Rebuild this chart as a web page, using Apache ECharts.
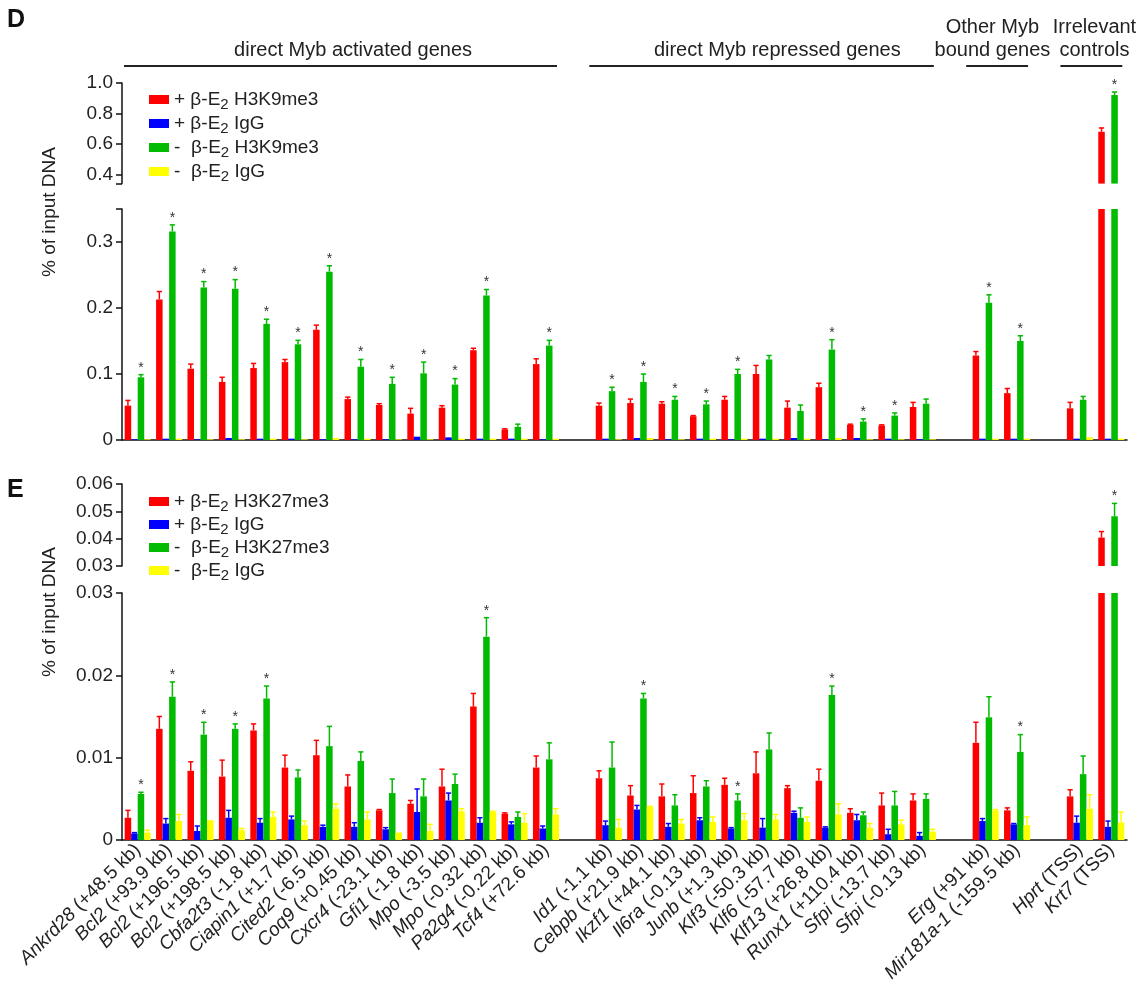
<!DOCTYPE html>
<html>
<head>
<meta charset="utf-8">
<script src="https://cdn.jsdelivr.net/npm/echarts@6/dist/echarts.min.js"></script>
<style>
  html, body { margin: 0; padding: 0; background: #fff; }
  #chart { width: 1145px; height: 998px; }
</style>
</head>
<body>
<div id="chart"></div>
<script>
// ChIP-qPCR loci, grouped; a blank slot separates groups on the axis
const groupTitles = [
  ['direct Myb activated genes'],
  ['direct Myb repressed genes'],
  ['Other Myb', 'bound genes'],
  ['Irrelevant', 'controls']
];
const groupSizes = [14, 11, 2, 2];
const genes = [
  'Ankrd28 (+48.5 kb)', 'Bcl2 (+93.9 kb)', 'Bcl2 (+196.5 kb)', 'Bcl2 (+198.5 kb)', 'Cbfa2t3 (-1.8 kb)',
  'Ciapin1 (+1.7 kb)', 'Cited2 (-6.5 kb)', 'Coq9 (+0.45 kb)', 'Cxcr4 (-23.1 kb)', 'Gfi1 (-1.8 kb)',
  'Mpo (-3.5 kb)', 'Mpo (-0.32 kb)', 'Pa2g4 (-0.22 kb)', 'Tcf4 (+72.6 kb)',
  'Id1 (-1.1 kb)', 'Cebpb (+21.9 kb)', 'Ikzf1 (+44.1 kb)', 'Il6ra (-0.13 kb)', 'Junb (+1.3 kb)',
  'Klf3 (-50.3 kb)', 'Klf6 (-57.7 kb)', 'Klf13 (+26.8 kb)', 'Runx1 (+110.4 kb)', 'Sfpi (-13.7 kb)', 'Sfpi (-0.13 kb)',
  'Erg (+91 kb)', 'Mir181a-1 (-159.5 kb)',
  'Hprt (TSS)', 'Krt7 (TSS)'
];

// Panel D: H3K9me3 ChIP (% of input DNA), mean and upper SEM
const dRed      = [0.052,0.213,0.108,0.088,0.109,0.118,0.167,0.062,0.053,0.040,0.049,0.136,0.016,0.115, 0.052,0.056,0.055,0.036,0.061,0.100,0.049,0.080,0.023,0.022,0.050, 0.128,0.071, 0.048,0.680];
const dRedErr   = [0.008,0.012,0.007,0.007,0.007,0.004,0.007,0.003,0.002,0.008,0.003,0.003,0.001,0.008, 0.004,0.006,0.003,0.001,0.005,0.013,0.010,0.006,0.001,0.001,0.007, 0.006,0.007, 0.009,0.025];
const dBlue     = [0.001,0.002,0.001,0.003,0.002,0.002,0.001,0.001,0.001,0.005,0.004,0.002,0.002,0.001, 0.002,0.003,0.001,0.002,0.001,0.002,0.003,0.001,0.003,0.002,0.001, 0.002,0.002, 0.002,0.002];
const dBlueErr  = [0,0,0,0,0,0,0,0,0,0,0,0,0,0, 0,0,0,0,0,0,0,0,0,0,0, 0,0, 0,0];
const dGreen    = [0.095,0.316,0.231,0.229,0.176,0.145,0.255,0.111,0.085,0.101,0.084,0.219,0.020,0.143, 0.074,0.088,0.061,0.054,0.100,0.122,0.044,0.137,0.028,0.037,0.055, 0.208,0.150, 0.061,0.921];
const dGreenErr = [0.004,0.010,0.009,0.014,0.007,0.006,0.009,0.011,0.010,0.017,0.009,0.009,0.004,0.008, 0.006,0.012,0.005,0.005,0.007,0.006,0.009,0.015,0.004,0.004,0.007, 0.012,0.008, 0.005,0.020];
const dYellow   = [0.001,0.002,0.001,0.001,0.002,0.001,0.003,0.002,0.001,0.001,0.002,0.002,0.002,0.002, 0.001,0.003,0.001,0.002,0.002,0.002,0.002,0.003,0.001,0.001,0.001, 0.002,0.002, 0.004,0.002];
const dYellowErr= [0,0,0,0,0,0,0,0,0,0,0,0,0,0, 0,0,0,0,0,0,0,0,0,0,0, 0,0, 0,0];
const dSig      = [1,1,1,1,1,1,1,1,1,1,1,1,0,1, 1,1,1,1,1,0,0,1,1,1,0, 1,1, 0,1];

// Panel E: H3K27me3 ChIP (% of input DNA), mean and upper SEM
const eRed      = [0.0027,0.0135,0.0084,0.0077,0.0133,0.0088,0.0103,0.0065,0.0036,0.0044,0.0065,0.0162,0.0032,0.0088, 0.0075,0.0054,0.0053,0.0057,0.0067,0.0081,0.0063,0.0072,0.0033,0.0042,0.0048, 0.0118,0.0036, 0.0053,0.0404];
const eRedErr   = [0.0009,0.0015,0.0011,0.0020,0.0008,0.0015,0.0018,0.0014,0.0001,0.0004,0.0021,0.0016,0.0001,0.0014, 0.0009,0.0012,0.0015,0.0021,0.0008,0.0026,0.0003,0.0014,0.0005,0.0015,0.0008, 0.0025,0.0003, 0.0008,0.0022];
const eBlue     = [0.0008,0.0020,0.0011,0.0027,0.0021,0.0025,0.0016,0.0016,0.0013,0.0034,0.0048,0.0021,0.0019,0.0014, 0.0018,0.0037,0.0016,0.0024,0.0014,0.0015,0.0033,0.0015,0.0024,0.0007,0.0005, 0.0023,0.0019, 0.0021,0.0016];
const eBlueErr  = [0.0001,0.0006,0.0006,0.0009,0.0005,0.0004,0.0002,0.0005,0.0002,0.0028,0.0009,0.0006,0.0003,0.0003, 0.0005,0.0005,0.0004,0.0003,0.0001,0.0011,0.0002,0.0001,0.0007,0.0006,0.0004, 0.0003,0.0001, 0.0008,0.0007];
const eGreen    = [0.0056,0.0174,0.0128,0.0135,0.0172,0.0076,0.0114,0.0096,0.0057,0.0053,0.0068,0.0247,0.0028,0.0098, 0.0088,0.0172,0.0042,0.0065,0.0048,0.0110,0.0027,0.0176,0.0030,0.0042,0.0050, 0.0149,0.0107, 0.0080,0.0482];
const eGreenErr = [0.0002,0.0018,0.0015,0.0006,0.0015,0.0009,0.0024,0.0011,0.0017,0.0021,0.0012,0.0023,0.0006,0.0020, 0.0031,0.0006,0.0013,0.0007,0.0008,0.0020,0.0012,0.0011,0.0004,0.0017,0.0006, 0.0025,0.0021, 0.0022,0.0047];
const eYellow   = [0.0009,0.0023,0.0024,0.0012,0.0028,0.0018,0.0038,0.0025,0.0009,0.0011,0.0035,0.0034,0.0021,0.0031, 0.0015,0.0040,0.0020,0.0022,0.0024,0.0025,0.0022,0.0031,0.0015,0.0019,0.0010, 0.0036,0.0018, 0.0038,0.0021];
const eYellowErr= [0.0003,0.0008,0.0000,0.0002,0.0006,0.0005,0.0006,0.0009,0.0000,0.0008,0.0003,0.0001,0.0011,0.0007, 0.0010,0.0001,0.0005,0.0006,0.0008,0.0006,0.0006,0.0013,0.0005,0.0005,0.0003, 0.0001,0.0010, 0.0017,0.0013];
const eSig      = [1,1,1,1,1,0,0,0,0,0,0,1,0,0, 0,1,0,0,1,0,0,1,0,0,0, 0,1, 0,1];

// Axis ticks for the broken value axes
const dUpperTicks = [0.4, 0.6, 0.8, 1.0];
const dLowerTicks = [0, 0.1, 0.2, 0.3];
const eUpperTicks = [0.03, 0.04, 0.05, 0.06];
const eLowerTicks = [0, 0.01, 0.02, 0.03];

const dNames = ['+ β-E2 H3K9me3', '+ β-E2 IgG', '-  β-E2 H3K9me3', '-  β-E2 IgG'];
const eNames = ['+ β-E2 H3K27me3', '+ β-E2 IgG', '-  β-E2 H3K27me3', '-  β-E2 IgG'];

// ---------------------------------------------------------------------------
const FONT = 'Liberation Sans, Arial, Helvetica, sans-serif';
const TXT = '#222';
const COLORS = ['#ff0000', '#0000ff', '#00bb00', '#ffff00'];
const CAT_GAP = 0.17;

// Category slots with a blank between consecutive groups
const slots = [];          // label per slot
const geneSlot = [];       // slot index of each gene
const groupSpan = [];      // [firstSlot, lastSlot] per group
(function buildSlots() {
  let g = 0;
  groupSizes.forEach((n, gi) => {
    if (gi > 0) slots.push('');
    const first = slots.length;
    for (let k = 0; k < n; k++) { geneSlot.push(slots.length); slots.push(genes[g++]); }
    groupSpan.push([first, slots.length - 1]);
  });
})();

function toSlots(arr) {
  const out = slots.map(() => '-');
  arr.forEach((v, i) => { out[geneSlot[i]] = v; });
  return out;
}

const GRID_LEFT = 122, GRID_WIDTH = 1005;
const grids = [
  { left: GRID_LEFT, width: GRID_WIDTH, top: 83,  height: 100.6 }, // D upper
  { left: GRID_LEFT, width: GRID_WIDTH, top: 209, height: 231 },   // D lower
  { left: GRID_LEFT, width: GRID_WIDTH, top: 484, height: 82 },    // E upper
  { left: GRID_LEFT, width: GRID_WIDTH, top: 593, height: 247 }    // E lower
];

function catLabel(v) {
  if (!v) return '';
  const i = v.indexOf(' ');
  return '{i|' + v.slice(0, i) + '}{n|' + v.slice(i) + '}';
}

const xAxes = grids.map((g, gi) => ({
  type: 'category',
  gridIndex: gi,
  data: slots,
  show: gi === 1 || gi === 3,
  axisLine: { lineStyle: { color: '#111', width: 1.5 } },
  axisTick: { alignWithLabel: true, length: 5, lineStyle: { color: '#111', width: 1.5 } },
  axisLabel: gi === 3 ? {
    interval: 0, rotate: 45, margin: 7, formatter: catLabel,
    rich: {
      i: { fontStyle: 'italic', fontSize: 19, fontFamily: FONT, color: TXT },
      n: { fontSize: 19, fontFamily: FONT, color: TXT }
    }
  } : { show: false }
}));

function yAxis(gi, min, max, labelVals, tickVals, digits) {
  return {
    type: 'value', gridIndex: gi, min, max,
    splitLine: { show: false },
    axisLine: { show: true, lineStyle: { color: '#111', width: 1.5 } },
    axisTick: { show: true, length: 6, customValues: tickVals, lineStyle: { color: '#111', width: 1.5 } },
    axisLabel: {
      customValues: labelVals, fontSize: 19, fontFamily: FONT, color: TXT, margin: 9,
      formatter: v => (Math.abs(v) < 1e-9 ? '0' : v.toFixed(digits))
    }
  };
}

const yAxes = [
  yAxis(0, 0.34, 1.0, dUpperTicks, [0.34].concat(dUpperTicks), 1),
  yAxis(1, 0, 0.35, dLowerTicks, dLowerTicks.concat([0.35]), 1),
  yAxis(2, 0.03, 0.06, eUpperTicks, eUpperTicks, 2),
  yAxis(3, 0, 0.03, eLowerTicks, eLowerTicks, 2)
];

// upper error bar with cap, plus a significance star above the green bar
function errRender(idx) {
  return function (params, api) {
    const cat = api.value(0), v = api.value(1), e = api.value(2), sig = api.value(3);
    const band = api.size([1, 0])[0];
    const barsW = band * (1 - CAT_GAP);
    const bw = barsW / 4;
    const base = api.coord([cat, v]);
    const cx = base[0] - barsW / 2 + (idx + 0.5) * bw;
    const y0 = base[1];
    const y1 = api.coord([cat, v + e])[1];
    const color = COLORS[idx];
    const children = [];
    if (e > 0) {
      children.push({ type: 'line', shape: { x1: cx, y1: y0, x2: cx, y2: y1 }, style: { stroke: color, lineWidth: 1.5 } });
      children.push({ type: 'line', shape: { x1: cx - bw * 0.4, y1: y1, x2: cx + bw * 0.4, y2: y1 }, style: { stroke: color, lineWidth: 1.5 } });
    }
    if (sig) {
      children.push({ type: 'text', x: cx, y: y1 - 7,
        style: { text: '*', align: 'center', verticalAlign: 'middle', fontSize: 14, fontFamily: FONT, fill: '#333' } });
    }
    return { type: 'group', children };
  };
}

const series = [];
function addPanel(names, vals, errs, sig, upperGrid, lowerGrid, brk) {
  vals.forEach((arr, k) => {
    const sl = toSlots(arr);
    // lower segment, clipped at the break
    series.push({
      name: names[k], type: 'bar', xAxisIndex: lowerGrid, yAxisIndex: lowerGrid,
      data: sl, barGap: '0%', barCategoryGap: (CAT_GAP * 100) + '%',
      itemStyle: { color: COLORS[k] }, clip: true, silent: true
    });
    // upper segment, only bars that rise past the break
    series.push({
      name: names[k], type: 'bar', xAxisIndex: upperGrid, yAxisIndex: upperGrid,
      data: sl.map(v => (v !== '-' && v > brk ? v : '-')), barGap: '0%', barCategoryGap: (CAT_GAP * 100) + '%',
      itemStyle: { color: COLORS[k] }, clip: true, silent: true
    });
  });
  vals.forEach((arr, k) => {
    const low = [], up = [];
    arr.forEach((v, i) => {
      const rec = [geneSlot[i], v, errs[k][i], k === 2 ? sig[i] : 0];
      (v > brk ? up : low).push(rec);
    });
    series.push({ name: 'err ' + names[k] + ' ' + lowerGrid, type: 'custom', xAxisIndex: lowerGrid, yAxisIndex: lowerGrid,
      data: low, renderItem: errRender(k), silent: true, z: 3 });
    series.push({ name: 'err ' + names[k] + ' ' + upperGrid, type: 'custom', xAxisIndex: upperGrid, yAxisIndex: upperGrid,
      data: up, renderItem: errRender(k), silent: true, z: 3 });
  });
}

addPanel(dNames, [dRed, dBlue, dGreen, dYellow], [dRedErr, dBlueErr, dGreenErr, dYellowErr], dSig, 0, 1, 0.35);
addPanel(eNames, [eRed, eBlue, eGreen, eYellow], [eRedErr, eBlueErr, eGreenErr, eYellowErr], eSig, 2, 3, 0.03);

function legend(names, top, gap) {
  return {
    data: names, orient: 'vertical', left: 144, top, itemGap: gap,
    itemWidth: 20, itemHeight: 9, icon: 'rect', selectedMode: false,
    formatter: n => '{t|' + n.replace('E2', 'E}{s|2}{t|') + '}',
    textStyle: {
      rich: {
        t: { fontSize: 19, fontFamily: FONT, color: TXT },
        s: { fontSize: 15, fontFamily: FONT, color: TXT, padding: [10, 0, 0, 0] }
      }
    }
  };
}

const chart = echarts.init(document.getElementById('chart'), null, { renderer: 'canvas' });
chart.setOption({
  animation: false,
  backgroundColor: '#fff',
  grid: grids,
  xAxis: xAxes,
  yAxis: yAxes,
  legend: [legend(dNames, 85, 2), legend(eNames, 487, 1)],
  series
});

// headers, panel letters and axis titles placed from the category scale
const slotX = i => chart.convertToPixel({ gridIndex: 3 }, [i, 0])[0];
const slotW = slotX(1) - slotX(0);
const headerTextShift = [0.4, 0.5, -0.15, 0.1];   // in slot widths
const graphics = [];
groupSpan.forEach((span, gi) => {
  const x1 = Math.max(GRID_LEFT + 2, slotX(span[0]) - 0.62 * slotW);
  const x2 = slotX(span[1]) + 0.35 * slotW;
  const cx = (x1 + x2) / 2 + headerTextShift[gi] * slotW;
  graphics.push({ type: 'line', shape: { x1, y1: 66, x2, y2: 66 }, style: { stroke: '#222', lineWidth: 2 } });
  const lines = groupTitles[gi];
  lines.forEach((t, li) => {
    const y = lines.length === 1 ? 50 : 27 + li * 23;
    graphics.push({ type: 'text', x: cx, y,
      style: { text: t, align: 'center', verticalAlign: 'middle', fontSize: 20, fontFamily: FONT, fill: TXT } });
  });
});
[['D', 8], ['E', 478]].forEach(([t, y]) => {
  graphics.push({ type: 'text', x: 7, y,
    style: { text: t, fontSize: 25, fontWeight: 'bold', fontFamily: FONT, fill: '#111', align: 'left', verticalAlign: 'top' } });
});
[212, 612].forEach(y => {
  graphics.push({ type: 'text', x: 50, y, rotation: Math.PI / 2,
    style: { text: '% of input DNA', align: 'center', verticalAlign: 'middle', fontSize: 19, fontFamily: FONT, fill: TXT } });
});
chart.setOption({ graphic: graphics });
</script>
</body>
</html>
